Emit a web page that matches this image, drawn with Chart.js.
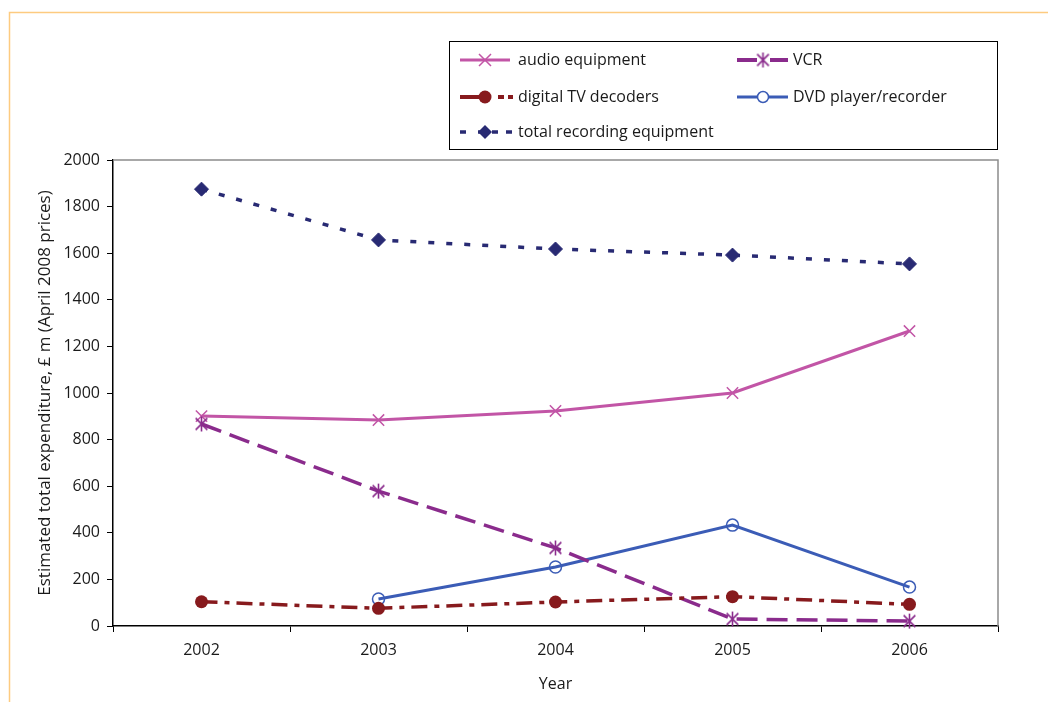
<!DOCTYPE html>
<html>
<head>
<meta charset="utf-8">
<script src="https://cdn.jsdelivr.net/npm/chart.js@4/dist/chart.umd.min.js"></script>
<style>
  html, body { margin: 0; padding: 0; background: #fff; }
  #wrap { position: relative; width: 1048px; height: 702px; }
</style>
</head>
<body>
<div id="wrap"><canvas id="c" width="1048" height="702"></canvas></div>
<script>
// Years on the category axis
const years = ['2002', '2003', '2004', '2005', '2006'];

// Estimated total expenditure, £ m (April 2008 prices)
const audioEquipment = [901, 884, 923, 1000, 1266];
const vcr = [867, 579, 335, 30, 21];
const digitalTvDecoders = [104, 76, 103, 126, 93];
const dvdPlayerRecorder = [null, 116, 253, 433, 167];
const totalRecording = [1875, 1657, 1618, 1592, 1554];

// Y axis tick values
const yTicks = [0, 200, 400, 600, 800, 1000, 1200, 1400, 1600, 1800, 2000];

const FONT = '"Open Sans", "Noto Sans", sans-serif';

const C_AUDIO = '#c255a6';
const C_VCR = '#8a2b8c';
const C_DTV = '#871a1d';
const C_DVD = '#3b5cb6';
const C_TOTAL = '#282a73';

// Asterisk marker: vertical bar plus an X
function asteriskMarker(color, size) {
  const cv = document.createElement('canvas');
  cv.width = size; cv.height = size;
  const g = cv.getContext('2d');
  const c = size / 2, r = size / 2 - 1;
  g.strokeStyle = color; g.lineWidth = 1.6;
  g.beginPath();
  g.moveTo(c, c - r); g.lineTo(c, c + r);
  const d = r * 0.78;
  g.moveTo(c - d, c - d); g.lineTo(c + d, c + d);
  g.moveTo(c - d, c + d); g.lineTo(c + d, c - d);
  g.stroke();
  return cv;
}
const vcrMarker = asteriskMarker(C_VCR, 17);

// Marker painter for the legend samples
function drawMarker(ctx, kind, x, y, color) {
  ctx.save();
  ctx.setLineDash([]);
  ctx.strokeStyle = color; ctx.fillStyle = color;
  ctx.beginPath();
  if (kind === 'x') {
    ctx.lineWidth = 1.5;
    const d = 6;
    ctx.moveTo(x - d, y - d); ctx.lineTo(x + d, y + d);
    ctx.moveTo(x - d, y + d); ctx.lineTo(x + d, y - d);
    ctx.stroke();
  } else if (kind === 'star') {
    ctx.drawImage(vcrMarker, x - 8.5, y - 8.5);
  } else if (kind === 'dot') {
    ctx.arc(x, y, 6.5, 0, Math.PI * 2); ctx.fill();
  } else if (kind === 'ring') {
    ctx.lineWidth = 1.5;
    ctx.fillStyle = '#fff';
    ctx.arc(x, y, 5.5, 0, Math.PI * 2); ctx.fill(); ctx.stroke();
  } else if (kind === 'diamond') {
    const d = 7;
    ctx.moveTo(x, y - d); ctx.lineTo(x + d, y); ctx.lineTo(x, y + d); ctx.lineTo(x - d, y);
    ctx.closePath(); ctx.fill();
  }
  ctx.restore();
}

// Legend rows: line segments [from, to] relative to the sample start
const legendItems = [
  { label: 'audio equipment', color: C_AUDIO, width: 3, marker: 'x', col: 0, row: 0, segs: [[0, 50]] },
  { label: 'VCR', color: C_VCR, width: 4, marker: 'star', col: 1, row: 0, segs: [[0, 20], [33, 51]] },
  { label: 'digital TV decoders', color: C_DTV, width: 4, marker: 'dot', col: 0, row: 1, segs: [[0, 30], [38, 44], [48, 53]] },
  { label: 'DVD player/recorder', color: C_DVD, width: 3, marker: 'ring', col: 1, row: 1, segs: [[0, 51]] },
  { label: 'total recording equipment', color: C_TOTAL, width: 3.5, marker: 'diamond', col: 0, row: 2, segs: [[0, 6], [18, 24], [32, 38], [46, 52]] }
];

const framePlugin = {
  id: 'frame',
  beforeDraw(chart) {
    const ctx = chart.ctx;
    ctx.save();
    ctx.strokeStyle = '#fdcb80';
    ctx.lineWidth = 1.5;
    ctx.beginPath();
    ctx.moveTo(1048, 12.5); ctx.lineTo(9.5, 12.5); ctx.lineTo(9.5, 702);
    ctx.stroke();
    ctx.restore();
  },
  afterDatasetsDraw(chart) {
    const ctx = chart.ctx;
    const a = chart.chartArea;
    ctx.save();
    // grey top and right edge of the plot area
    ctx.strokeStyle = '#8c8c8c';
    ctx.lineWidth = 1.5;
    ctx.beginPath();
    ctx.moveTo(a.left, a.top); ctx.lineTo(a.right, a.top); ctx.lineTo(a.right, a.bottom);
    ctx.stroke();

    // legend box
    const bx = 449.5, by = 41.5, bw = 548, bh = 108;
    ctx.fillStyle = '#fff';
    ctx.fillRect(bx, by, bw, bh);
    ctx.strokeStyle = '#000';
    ctx.lineWidth = 1;
    ctx.strokeRect(bx, by, bw, bh);

    const colX = [[460, 485, 518], [737, 763, 793]];
    const rowY = [60, 97, 132];
    ctx.font = '16px ' + FONT;
    ctx.textBaseline = 'middle';
    legendItems.forEach(it => {
      const [x0, mx, tx] = colX[it.col];
      const y = rowY[it.row];
      ctx.save();
      ctx.strokeStyle = it.color;
      ctx.lineWidth = it.width;
      ctx.beginPath();
      it.segs.forEach(([s, e]) => { ctx.moveTo(x0 + s, y); ctx.lineTo(x0 + e, y); });
      ctx.stroke();
      ctx.restore();
      drawMarker(ctx, it.marker, mx, y, it.color);
      ctx.fillStyle = '#1a1a1a';
      ctx.fillText(it.label, tx, y);
    });
    ctx.restore();
  }
};

new Chart(document.getElementById('c'), {
  type: 'line',
  data: {
    labels: years,
    datasets: [
      {
        label: 'total recording equipment', data: totalRecording,
        borderColor: C_TOTAL, backgroundColor: C_TOTAL, borderWidth: 3.5,
        borderDash: [6, 12], pointStyle: 'rectRot', pointRadius: 7,
        pointBorderWidth: 1, pointBackgroundColor: C_TOTAL
      },
      {
        label: 'digital TV decoders', data: digitalTvDecoders,
        borderColor: C_DTV, backgroundColor: C_DTV, borderWidth: 3.5,
        borderDash: [16, 7, 5, 7], pointStyle: 'circle', pointRadius: 6.5,
        pointBorderWidth: 0, pointBackgroundColor: C_DTV
      },
      {
        label: 'VCR', data: vcr,
        borderColor: C_VCR, backgroundColor: C_VCR, borderWidth: 3.5,
        borderDash: [21, 9], pointStyle: vcrMarker
      },
      {
        label: 'DVD player/recorder', data: dvdPlayerRecorder,
        borderColor: C_DVD, backgroundColor: 'rgba(0,0,0,0)', borderWidth: 3,
        pointStyle: 'circle', pointRadius: 6, pointBorderWidth: 1.5,
        pointBackgroundColor: 'rgba(0,0,0,0)'
      },
      {
        label: 'audio equipment', data: audioEquipment,
        borderColor: C_AUDIO, backgroundColor: C_AUDIO, borderWidth: 3,
        pointStyle: 'crossRot', pointRadius: 8, pointBorderWidth: 1.5
      }
    ]
  },
  options: {
    responsive: false,
    animation: false,
    devicePixelRatio: 1,
    clip: false,
    layout: { padding: { left: 0, top: 160, right: 50, bottom: 0 } },
    elements: { line: { tension: 0, fill: false } },
    plugins: { legend: { display: false }, tooltip: { enabled: false } },
    scales: {
      x: {
        type: 'category',
        offset: true,
        afterFit(s) { s.height = 76; },
        grid: { display: true, offset: true, drawOnChartArea: false, drawTicks: true, tickLength: 6, color: '#000', lineWidth: 1 },
        border: { display: true, color: '#000', width: 1.5 },
        ticks: { color: '#1a1a1a', font: { family: FONT, size: 16 }, padding: 9 },
        title: { display: true, text: 'Year', color: '#1a1a1a', font: { family: FONT, size: 16 }, padding: { top: 9, bottom: 8 } }
      },
      y: {
        min: 0, max: 2000,
        afterFit(s) { s.width = 113; },
        afterBuildTicks(s) { s.ticks = yTicks.map(v => ({ value: v })); },
        grid: { display: true, drawOnChartArea: false, drawTicks: true, tickLength: 6, color: '#000', lineWidth: 1 },
        border: { display: true, color: '#000', width: 1.5 },
        ticks: { color: '#1a1a1a', font: { family: FONT, size: 16 }, padding: 7, callback: v => String(v) },
        title: { display: true, text: 'Estimated total expenditure, £ m (April 2008 prices)', color: '#1a1a1a', font: { family: FONT, size: 17 }, padding: { top: 35, bottom: 0 } }
      }
    }
  },
  plugins: [framePlugin]
});
</script>
</body>
</html>
